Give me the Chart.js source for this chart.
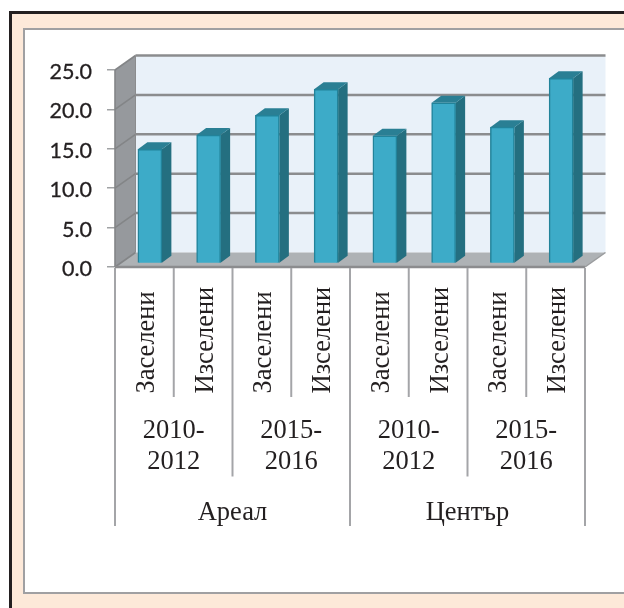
<!DOCTYPE html>
<html><head><meta charset="utf-8">
<style>
html,body{margin:0;padding:0;background:#fff;width:624px;height:608px;overflow:hidden}
#outer{position:absolute;left:9px;top:11px;width:640px;height:640px;box-sizing:border-box;border:3px solid #231f20;background:#fde9d9}
#inner{position:absolute;left:23px;top:28px;width:640px;height:566px;box-sizing:border-box;border:2px solid #a0a0a2;background:#fff}
canvas{position:absolute;left:0;top:0}
</style></head><body>
<div id="outer"></div><div id="inner"></div>
<canvas id="c" width="624" height="608"></canvas>
<script src="https://cdn.jsdelivr.net/npm/chart.js@4"></script>
<script>
const categories=["Заселени","Изселени","Заселени","Изселени","Заселени","Изселени","Заселени","Изселени"];
const values=[14.5,16.3,18.8,22.1,16.2,20.4,17.3,23.5];
const periods=[["2010-","2012"],["2015-","2016"],["2010-","2012"],["2015-","2016"]];
const regions=["Ареал","Център"];
const yTicks=[0,5,10,15,20,25];

const depthX=20.5, depthY=-14.5, barDX=5.5, barDY=-3.5, barDepthX=9.5, barDepthY=-7;
const serif='"Liberation Serif","Times New Roman",serif';

function poly(ctx,pts,fill){ctx.beginPath();pts.forEach((p,i)=>i?ctx.lineTo(p[0],p[1]):ctx.moveTo(p[0],p[1]));ctx.closePath();ctx.fillStyle=fill;ctx.fill();}
function line(ctx,x1,y1,x2,y2,col,w){ctx.beginPath();ctx.moveTo(x1,y1);ctx.lineTo(x2,y2);ctx.strokeStyle=col;ctx.lineWidth=w;ctx.stroke();}

const scene={
 id:'scene',
 beforeDatasetsDraw(chart){
  const ctx=chart.ctx,x=chart.scales.x,y=chart.scales.y;
  const L=x.left,R=x.right,T=y.getPixelForValue(25),B=y.getPixelForValue(0);
  ctx.save();
  poly(ctx,[[L+depthX,T+depthY],[R+depthX,T+depthY],[R+depthX,B+depthY],[L+depthX,B+depthY]],'#e9f1f9');
  poly(ctx,[[L,T],[L+depthX,T+depthY],[L+depthX,B+depthY],[L,B]],'#96999d');
  poly(ctx,[[L,B],[L+depthX,B+depthY],[R+depthX,B+depthY],[R,B]],'#aeb2b5');
  yTicks.forEach(v=>{
   const p=y.getPixelForValue(v);
   if(v>0) line(ctx,L+depthX,p+depthY,R+depthX,p+depthY,'#8b8c8e',2.5);
   line(ctx,L,p,L+depthX,p+depthY,'#838587',1.6);
  });
  line(ctx,L+depthX,T+depthY,L+depthX,B+depthY,'#8b8c8e',1);
  line(ctx,L,T,L,B,'#838587',1.6);
  line(ctx,L,B,R,B,'#8b8c8e',2.6);
  line(ctx,R,B,R+depthX,B+depthY,'#9a9c9e',1.5);
  ctx.restore();

  ctx.save();
  ctx.translate(barDX,barDY);
  chart.getDatasetMeta(0).data.forEach(b=>{
   const l=b.x-b.width/2,r=b.x+b.width/2;
   poly(ctx,[[r,b.y],[r+barDepthX,b.y+barDepthY],[r+barDepthX,b.base+barDepthY],[r,b.base]],'#246f80');
   poly(ctx,[[l,b.y],[l+barDepthX,b.y+barDepthY],[r+barDepthX,b.y+barDepthY],[r,b.y]],'#2a7f94');
  });
 },
 afterDatasetsDraw(chart){
  const ctx=chart.ctx;
  ctx.restore();
  const x=chart.scales.x,y=chart.scales.y;
  const B=y.getPixelForValue(0);
  const edge=i=>x.left+(x.right-x.left)*i/categories.length;
  ctx.save();
  for(let i=0;i<=categories.length;i++){
   const end=i%4===0?526:(i%2===0?476.5:397);
   line(ctx,edge(i),B+1,edge(i),end,'#a4a5a8',2);
  }
  ctx.fillStyle='#231f20';
  ctx.textBaseline='alphabetic';
  ctx.font='26.5px '+serif;
  categories.forEach((t,i)=>{
   ctx.save();
   ctx.translate(x.getPixelForValue(i)+9.5,393.5);
   ctx.rotate(-Math.PI/2);
   ctx.textAlign='left';
   ctx.fillText(t,0,0);
   ctx.restore();
  });
  ctx.textAlign='center';
  periods.forEach((ls,i)=>{
   const cx=edge(i*2+1);
   ctx.fillText(ls[0],cx,438);
   ctx.fillText(ls[1],cx,469);
  });
  regions.forEach((t,i)=>ctx.fillText(t,edge(i*4+2),520));
  ctx.restore();
 }
};

new Chart(document.getElementById('c'),{
 type:'bar',
 data:{labels:categories,datasets:[{data:values,backgroundColor:'#3dabc8',borderColor:'#22839a',borderWidth:1.5,barThickness:24,clip:false}]},
 plugins:[scene],
 options:{
  responsive:false,animation:false,
  layout:{padding:{left:50,top:70,right:39,bottom:341}},
  plugins:{legend:{display:false},tooltip:{enabled:false}},
  scales:{
   x:{offset:true,grid:{display:false},border:{display:false},ticks:{display:false},afterFit(s){s.height=0;}},
   y:{min:0,max:25,
      afterFit(s){s.width=65;},
      border:{display:false},
      grid:{drawOnChartArea:false,drawTicks:true,tickLength:8,color:'#a0a2a4',lineWidth:1.5},
      ticks:{stepSize:5,padding:15,color:'#231f20',textStrokeColor:'#231f20',textStrokeWidth:0.3,
             font:{family:'Lato',size:21.5,lineHeight:'4px'},callback:v=>["",v.toFixed(1)]}}
  }
 }
});
</script></body></html>
